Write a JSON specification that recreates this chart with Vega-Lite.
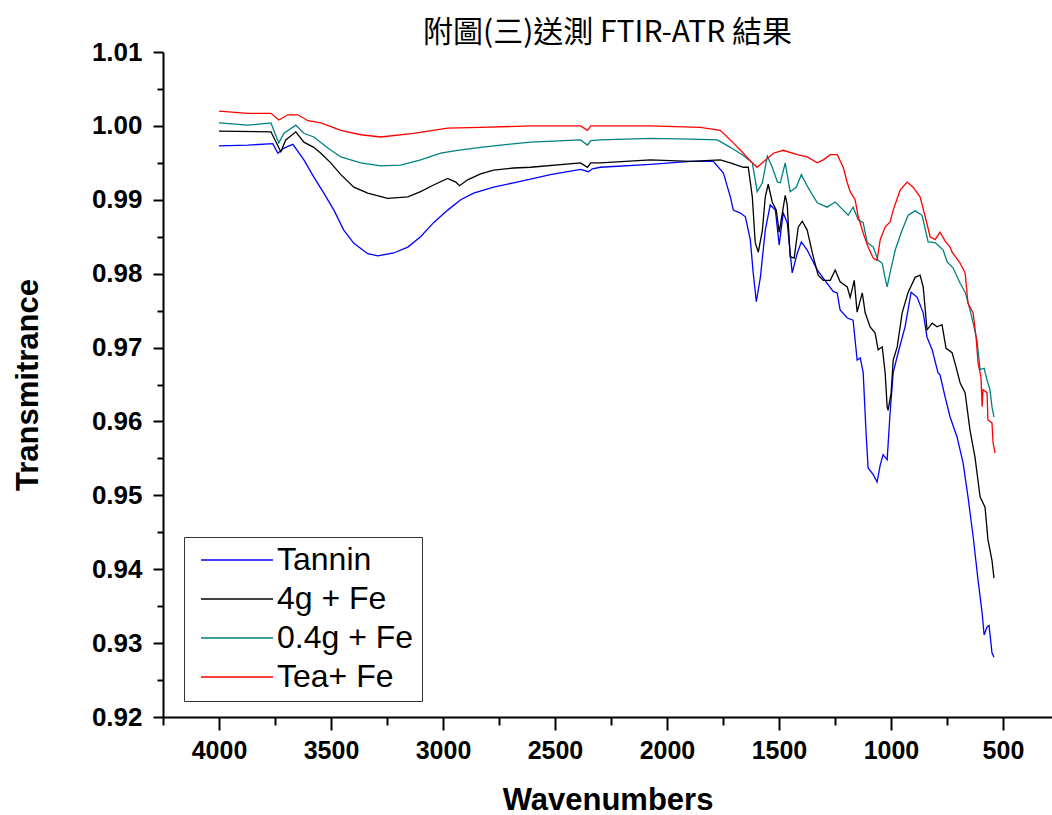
{
  "$schema": "https://vega.github.io/schema/vega-lite/v6.json",
  "autosize": "none",
  "padding": {"left": 163, "top": 52, "right": 0, "bottom": 98},
  "width": 889,
  "height": 665,
  "background": "white",
  "title": {"text": "附圖(三)送測 FTIR-ATR 結果", "font": "Noto Sans CJK TC", "fontSize": 30, "fontWeight": "normal", "color": "black", "anchor": "middle", "offset": 0, "dy": 9},
  "config": {"view": {"stroke": null}},
  "datasets": {
    "spectra": [
      {"s":"Tannin","w":4000,"t":0.9973},{"s":"Tannin","w":3870,"t":0.9974},{"s":"Tannin","w":3760,"t":0.9976},{"s":"Tannin","w":3737,"t":0.9963},{"s":"Tannin","w":3710,"t":0.9970},{"s":"Tannin","w":3670,"t":0.9975},{"s":"Tannin","w":3621,"t":0.9954},{"s":"Tannin","w":3577,"t":0.9931},{"s":"Tannin","w":3532,"t":0.9909},{"s":"Tannin","w":3487,"t":0.9886},{"s":"Tannin","w":3443,"t":0.9859},{"s":"Tannin","w":3398,"t":0.9841},{"s":"Tannin","w":3336,"t":0.9827},{"s":"Tannin","w":3291,"t":0.9824},{"s":"Tannin","w":3220,"t":0.9828},{"s":"Tannin","w":3157,"t":0.9836},{"s":"Tannin","w":3100,"t":0.9850},{"s":"Tannin","w":3042,"t":0.9869},{"s":"Tannin","w":2979,"t":0.9886},{"s":"Tannin","w":2921,"t":0.9900},{"s":"Tannin","w":2863,"t":0.9909},{"s":"Tannin","w":2774,"t":0.9917},{"s":"Tannin","w":2685,"t":0.9923},{"s":"Tannin","w":2609,"t":0.9928},{"s":"Tannin","w":2520,"t":0.9934},{"s":"Tannin","w":2386,"t":0.9941},{"s":"Tannin","w":2350,"t":0.9938},{"s":"Tannin","w":2333,"t":0.9942},{"s":"Tannin","w":2297,"t":0.9944},{"s":"Tannin","w":2074,"t":0.9948},{"s":"Tannin","w":1896,"t":0.9952},{"s":"Tannin","w":1793,"t":0.9952},{"s":"Tannin","w":1748,"t":0.9936},{"s":"Tannin","w":1717,"t":0.9904},{"s":"Tannin","w":1704,"t":0.9886},{"s":"Tannin","w":1672,"t":0.9882},{"s":"Tannin","w":1650,"t":0.9877},{"s":"Tannin","w":1628,"t":0.9846},{"s":"Tannin","w":1615,"t":0.9801},{"s":"Tannin","w":1601,"t":0.9762},{"s":"Tannin","w":1583,"t":0.9795},{"s":"Tannin","w":1561,"t":0.9859},{"s":"Tannin","w":1539,"t":0.9893},{"s":"Tannin","w":1516,"t":0.9886},{"s":"Tannin","w":1499,"t":0.9839},{"s":"Tannin","w":1481,"t":0.9882},{"s":"Tannin","w":1463,"t":0.9869},{"s":"Tannin","w":1441,"t":0.9801},{"s":"Tannin","w":1418,"t":0.9828},{"s":"Tannin","w":1400,"t":0.9843},{"s":"Tannin","w":1374,"t":0.9832},{"s":"Tannin","w":1329,"t":0.9805},{"s":"Tannin","w":1285,"t":0.9787},{"s":"Tannin","w":1258,"t":0.9776},{"s":"Tannin","w":1240,"t":0.9774},{"s":"Tannin","w":1227,"t":0.9751},{"s":"Tannin","w":1195,"t":0.9740},{"s":"Tannin","w":1169,"t":0.9737},{"s":"Tannin","w":1151,"t":0.9683},{"s":"Tannin","w":1137,"t":0.9686},{"s":"Tannin","w":1124,"t":0.9666},{"s":"Tannin","w":1111,"t":0.9584},{"s":"Tannin","w":1102,"t":0.9537},{"s":"Tannin","w":1079,"t":0.9528},{"s":"Tannin","w":1062,"t":0.9518},{"s":"Tannin","w":1048,"t":0.9541},{"s":"Tannin","w":1035,"t":0.9555},{"s":"Tannin","w":1017,"t":0.9548},{"s":"Tannin","w":1004,"t":0.9611},{"s":"Tannin","w":990,"t":0.9666},{"s":"Tannin","w":968,"t":0.9693},{"s":"Tannin","w":937,"t":0.9728},{"s":"Tannin","w":910,"t":0.9775},{"s":"Tannin","w":883,"t":0.9768},{"s":"Tannin","w":856,"t":0.9747},{"s":"Tannin","w":839,"t":0.9714},{"s":"Tannin","w":816,"t":0.9697},{"s":"Tannin","w":790,"t":0.9666},{"s":"Tannin","w":781,"t":0.9663},{"s":"Tannin","w":758,"t":0.9633},{"s":"Tannin","w":736,"t":0.9606},{"s":"Tannin","w":705,"t":0.9579},{"s":"Tannin","w":678,"t":0.9544},{"s":"Tannin","w":656,"t":0.9498},{"s":"Tannin","w":633,"t":0.9444},{"s":"Tannin","w":611,"t":0.9385},{"s":"Tannin","w":593,"t":0.9341},{"s":"Tannin","w":584,"t":0.9311},{"s":"Tannin","w":571,"t":0.9322},{"s":"Tannin","w":562,"t":0.9324},{"s":"Tannin","w":549,"t":0.9287},{"s":"Tannin","w":540,"t":0.9281},

      {"s":"4g + Fe","w":4000,"t":0.9993},{"s":"4g + Fe","w":3768,"t":0.9992},{"s":"4g + Fe","w":3724,"t":0.9965},{"s":"4g + Fe","w":3702,"t":0.9981},{"s":"4g + Fe","w":3657,"t":0.9992},{"s":"4g + Fe","w":3621,"t":0.9978},{"s":"4g + Fe","w":3577,"t":0.9971},{"s":"4g + Fe","w":3545,"t":0.9963},{"s":"4g + Fe","w":3501,"t":0.9950},{"s":"4g + Fe","w":3456,"t":0.9934},{"s":"4g + Fe","w":3398,"t":0.9917},{"s":"4g + Fe","w":3336,"t":0.9909},{"s":"4g + Fe","w":3247,"t":0.9902},{"s":"4g + Fe","w":3157,"t":0.9904},{"s":"4g + Fe","w":3100,"t":0.9911},{"s":"4g + Fe","w":3042,"t":0.9920},{"s":"4g + Fe","w":2979,"t":0.9929},{"s":"4g + Fe","w":2943,"t":0.9924},{"s":"4g + Fe","w":2926,"t":0.9919},{"s":"4g + Fe","w":2890,"t":0.9927},{"s":"4g + Fe","w":2832,"t":0.9935},{"s":"4g + Fe","w":2774,"t":0.9940},{"s":"4g + Fe","w":2685,"t":0.9943},{"s":"4g + Fe","w":2609,"t":0.9944},{"s":"4g + Fe","w":2386,"t":0.9950},{"s":"4g + Fe","w":2355,"t":0.9944},{"s":"4g + Fe","w":2340,"t":0.9950},{"s":"4g + Fe","w":2297,"t":0.9950},{"s":"4g + Fe","w":2074,"t":0.9954},{"s":"4g + Fe","w":1896,"t":0.9952},{"s":"4g + Fe","w":1762,"t":0.9954},{"s":"4g + Fe","w":1717,"t":0.9950},{"s":"4g + Fe","w":1659,"t":0.9944},{"s":"4g + Fe","w":1637,"t":0.9944},{"s":"4g + Fe","w":1619,"t":0.9904},{"s":"4g + Fe","w":1606,"t":0.9842},{"s":"4g + Fe","w":1592,"t":0.9829},{"s":"4g + Fe","w":1574,"t":0.9859},{"s":"4g + Fe","w":1561,"t":0.9904},{"s":"4g + Fe","w":1548,"t":0.9921},{"s":"4g + Fe","w":1530,"t":0.9897},{"s":"4g + Fe","w":1512,"t":0.9886},{"s":"4g + Fe","w":1499,"t":0.9856},{"s":"4g + Fe","w":1472,"t":0.9906},{"s":"4g + Fe","w":1463,"t":0.9893},{"s":"4g + Fe","w":1450,"t":0.9823},{"s":"4g + Fe","w":1432,"t":0.9821},{"s":"4g + Fe","w":1414,"t":0.9863},{"s":"4g + Fe","w":1396,"t":0.9871},{"s":"4g + Fe","w":1374,"t":0.9859},{"s":"4g + Fe","w":1347,"t":0.9823},{"s":"4g + Fe","w":1325,"t":0.9798},{"s":"4g + Fe","w":1302,"t":0.9791},{"s":"4g + Fe","w":1271,"t":0.9791},{"s":"4g + Fe","w":1249,"t":0.9805},{"s":"4g + Fe","w":1227,"t":0.9789},{"s":"4g + Fe","w":1195,"t":0.9782},{"s":"4g + Fe","w":1182,"t":0.9768},{"s":"4g + Fe","w":1164,"t":0.9791},{"s":"4g + Fe","w":1151,"t":0.9748},{"s":"4g + Fe","w":1128,"t":0.9774},{"s":"4g + Fe","w":1115,"t":0.9747},{"s":"4g + Fe","w":1093,"t":0.9728},{"s":"4g + Fe","w":1071,"t":0.9720},{"s":"4g + Fe","w":1057,"t":0.9697},{"s":"4g + Fe","w":1039,"t":0.9701},{"s":"4g + Fe","w":1026,"t":0.9666},{"s":"4g + Fe","w":1017,"t":0.9620},{"s":"4g + Fe","w":1013,"t":0.9615},{"s":"4g + Fe","w":999,"t":0.9639},{"s":"4g + Fe","w":990,"t":0.9683},{"s":"4g + Fe","w":972,"t":0.9701},{"s":"4g + Fe","w":950,"t":0.9747},{"s":"4g + Fe","w":923,"t":0.9775},{"s":"4g + Fe","w":892,"t":0.9795},{"s":"4g + Fe","w":870,"t":0.9798},{"s":"4g + Fe","w":856,"t":0.9782},{"s":"4g + Fe","w":839,"t":0.9724},{"s":"4g + Fe","w":816,"t":0.9733},{"s":"4g + Fe","w":794,"t":0.9728},{"s":"4g + Fe","w":772,"t":0.9731},{"s":"4g + Fe","w":754,"t":0.9699},{"s":"4g + Fe","w":727,"t":0.9693},{"s":"4g + Fe","w":714,"t":0.9679},{"s":"4g + Fe","w":691,"t":0.9652},{"s":"4g + Fe","w":669,"t":0.9639},{"s":"4g + Fe","w":647,"t":0.9588},{"s":"4g + Fe","w":625,"t":0.9552},{"s":"4g + Fe","w":602,"t":0.9498},{"s":"4g + Fe","w":580,"t":0.9484},{"s":"4g + Fe","w":567,"t":0.9440},{"s":"4g + Fe","w":549,"t":0.9412},{"s":"4g + Fe","w":540,"t":0.9388},

      {"s":"0.4g + Fe","w":4000,"t":1.0004},{"s":"0.4g + Fe","w":3871,"t":1.0001},{"s":"0.4g + Fe","w":3768,"t":1.0004},{"s":"0.4g + Fe","w":3733,"t":0.9977},{"s":"0.4g + Fe","w":3710,"t":0.9990},{"s":"0.4g + Fe","w":3657,"t":1.0001},{"s":"0.4g + Fe","w":3621,"t":0.9990},{"s":"0.4g + Fe","w":3577,"t":0.9985},{"s":"0.4g + Fe","w":3514,"t":0.9970},{"s":"0.4g + Fe","w":3456,"t":0.9958},{"s":"0.4g + Fe","w":3367,"t":0.9950},{"s":"0.4g + Fe","w":3278,"t":0.9946},{"s":"0.4g + Fe","w":3189,"t":0.9947},{"s":"0.4g + Fe","w":3100,"t":0.9954},{"s":"0.4g + Fe","w":3010,"t":0.9963},{"s":"0.4g + Fe","w":2935,"t":0.9967},{"s":"0.4g + Fe","w":2832,"t":0.9971},{"s":"0.4g + Fe","w":2743,"t":0.9974},{"s":"0.4g + Fe","w":2609,"t":0.9978},{"s":"0.4g + Fe","w":2386,"t":0.9981},{"s":"0.4g + Fe","w":2355,"t":0.9974},{"s":"0.4g + Fe","w":2340,"t":0.9980},{"s":"0.4g + Fe","w":2297,"t":0.9981},{"s":"0.4g + Fe","w":2074,"t":0.9983},{"s":"0.4g + Fe","w":1896,"t":0.9982},{"s":"0.4g + Fe","w":1775,"t":0.9981},{"s":"0.4g + Fe","w":1717,"t":0.9971},{"s":"0.4g + Fe","w":1659,"t":0.9960},{"s":"0.4g + Fe","w":1619,"t":0.9950},{"s":"0.4g + Fe","w":1597,"t":0.9911},{"s":"0.4g + Fe","w":1574,"t":0.9923},{"s":"0.4g + Fe","w":1552,"t":0.9959},{"s":"0.4g + Fe","w":1530,"t":0.9944},{"s":"0.4g + Fe","w":1507,"t":0.9924},{"s":"0.4g + Fe","w":1494,"t":0.9923},{"s":"0.4g + Fe","w":1472,"t":0.9950},{"s":"0.4g + Fe","w":1450,"t":0.9911},{"s":"0.4g + Fe","w":1423,"t":0.9917},{"s":"0.4g + Fe","w":1400,"t":0.9934},{"s":"0.4g + Fe","w":1369,"t":0.9916},{"s":"0.4g + Fe","w":1329,"t":0.9896},{"s":"0.4g + Fe","w":1285,"t":0.9890},{"s":"0.4g + Fe","w":1249,"t":0.9897},{"s":"0.4g + Fe","w":1213,"t":0.9886},{"s":"0.4g + Fe","w":1191,"t":0.9879},{"s":"0.4g + Fe","w":1169,"t":0.9890},{"s":"0.4g + Fe","w":1146,"t":0.9873},{"s":"0.4g + Fe","w":1124,"t":0.9869},{"s":"0.4g + Fe","w":1106,"t":0.9842},{"s":"0.4g + Fe","w":1079,"t":0.9836},{"s":"0.4g + Fe","w":1057,"t":0.9818},{"s":"0.4g + Fe","w":1039,"t":0.9814},{"s":"0.4g + Fe","w":1026,"t":0.9794},{"s":"0.4g + Fe","w":1017,"t":0.9782},{"s":"0.4g + Fe","w":1004,"t":0.9801},{"s":"0.4g + Fe","w":981,"t":0.9832},{"s":"0.4g + Fe","w":950,"t":0.9859},{"s":"0.4g + Fe","w":923,"t":0.9879},{"s":"0.4g + Fe","w":892,"t":0.9885},{"s":"0.4g + Fe","w":861,"t":0.9879},{"s":"0.4g + Fe","w":834,"t":0.9843},{"s":"0.4g + Fe","w":803,"t":0.9842},{"s":"0.4g + Fe","w":781,"t":0.9836},{"s":"0.4g + Fe","w":767,"t":0.9832},{"s":"0.4g + Fe","w":749,"t":0.9816},{"s":"0.4g + Fe","w":723,"t":0.9808},{"s":"0.4g + Fe","w":691,"t":0.9787},{"s":"0.4g + Fe","w":669,"t":0.9775},{"s":"0.4g + Fe","w":647,"t":0.9751},{"s":"0.4g + Fe","w":633,"t":0.9733},{"s":"0.4g + Fe","w":616,"t":0.9710},{"s":"0.4g + Fe","w":602,"t":0.9670},{"s":"0.4g + Fe","w":584,"t":0.9672},{"s":"0.4g + Fe","w":571,"t":0.9656},{"s":"0.4g + Fe","w":558,"t":0.9643},{"s":"0.4g + Fe","w":549,"t":0.9620},{"s":"0.4g + Fe","w":540,"t":0.9606},

      {"s":"Tea+ Fe","w":4000,"t":1.0020},{"s":"Tea+ Fe","w":3871,"t":1.0017},{"s":"Tea+ Fe","w":3768,"t":1.0017},{"s":"Tea+ Fe","w":3733,"t":1.0008},{"s":"Tea+ Fe","w":3693,"t":1.0015},{"s":"Tea+ Fe","w":3648,"t":1.0015},{"s":"Tea+ Fe","w":3603,"t":1.0007},{"s":"Tea+ Fe","w":3545,"t":1.0004},{"s":"Tea+ Fe","w":3456,"t":0.9994},{"s":"Tea+ Fe","w":3367,"t":0.9988},{"s":"Tea+ Fe","w":3278,"t":0.9985},{"s":"Tea+ Fe","w":3131,"t":0.9990},{"s":"Tea+ Fe","w":2979,"t":0.9997},{"s":"Tea+ Fe","w":2832,"t":0.9998},{"s":"Tea+ Fe","w":2609,"t":1.0000},{"s":"Tea+ Fe","w":2386,"t":1.0000},{"s":"Tea+ Fe","w":2355,"t":0.9994},{"s":"Tea+ Fe","w":2340,"t":1.0000},{"s":"Tea+ Fe","w":2297,"t":1.0000},{"s":"Tea+ Fe","w":2074,"t":1.0000},{"s":"Tea+ Fe","w":1851,"t":0.9998},{"s":"Tea+ Fe","w":1762,"t":0.9994},{"s":"Tea+ Fe","w":1704,"t":0.9977},{"s":"Tea+ Fe","w":1659,"t":0.9963},{"s":"Tea+ Fe","w":1619,"t":0.9950},{"s":"Tea+ Fe","w":1597,"t":0.9944},{"s":"Tea+ Fe","w":1570,"t":0.9951},{"s":"Tea+ Fe","w":1525,"t":0.9963},{"s":"Tea+ Fe","w":1481,"t":0.9967},{"s":"Tea+ Fe","w":1418,"t":0.9961},{"s":"Tea+ Fe","w":1374,"t":0.9958},{"s":"Tea+ Fe","w":1329,"t":0.9950},{"s":"Tea+ Fe","w":1302,"t":0.9954},{"s":"Tea+ Fe","w":1271,"t":0.9961},{"s":"Tea+ Fe","w":1240,"t":0.9961},{"s":"Tea+ Fe","w":1213,"t":0.9944},{"s":"Tea+ Fe","w":1195,"t":0.9923},{"s":"Tea+ Fe","w":1182,"t":0.9911},{"s":"Tea+ Fe","w":1160,"t":0.9900},{"s":"Tea+ Fe","w":1146,"t":0.9877},{"s":"Tea+ Fe","w":1124,"t":0.9855},{"s":"Tea+ Fe","w":1102,"t":0.9836},{"s":"Tea+ Fe","w":1079,"t":0.9821},{"s":"Tea+ Fe","w":1062,"t":0.9818},{"s":"Tea+ Fe","w":1048,"t":0.9846},{"s":"Tea+ Fe","w":1026,"t":0.9863},{"s":"Tea+ Fe","w":1004,"t":0.9870},{"s":"Tea+ Fe","w":990,"t":0.9886},{"s":"Tea+ Fe","w":959,"t":0.9913},{"s":"Tea+ Fe","w":928,"t":0.9924},{"s":"Tea+ Fe","w":901,"t":0.9917},{"s":"Tea+ Fe","w":870,"t":0.9904},{"s":"Tea+ Fe","w":847,"t":0.9877},{"s":"Tea+ Fe","w":825,"t":0.9850},{"s":"Tea+ Fe","w":803,"t":0.9846},{"s":"Tea+ Fe","w":781,"t":0.9856},{"s":"Tea+ Fe","w":758,"t":0.9844},{"s":"Tea+ Fe","w":736,"t":0.9836},{"s":"Tea+ Fe","w":727,"t":0.9829},{"s":"Tea+ Fe","w":705,"t":0.9820},{"s":"Tea+ Fe","w":691,"t":0.9814},{"s":"Tea+ Fe","w":669,"t":0.9801},{"s":"Tea+ Fe","w":656,"t":0.9760},{"s":"Tea+ Fe","w":633,"t":0.9747},{"s":"Tea+ Fe","w":620,"t":0.9714},{"s":"Tea+ Fe","w":611,"t":0.9679},{"s":"Tea+ Fe","w":598,"t":0.9660},{"s":"Tea+ Fe","w":593,"t":0.9620},{"s":"Tea+ Fe","w":589,"t":0.9643},{"s":"Tea+ Fe","w":571,"t":0.9639},{"s":"Tea+ Fe","w":567,"t":0.9602},{"s":"Tea+ Fe","w":549,"t":0.9598},{"s":"Tea+ Fe","w":544,"t":0.9571},{"s":"Tea+ Fe","w":535,"t":0.9557}
    ]
  },
  "data": {"name": "spectra"},
  "mark": {"type": "line", "strokeWidth": 1.3, "clip": true},
  "encoding": {
    "x": {
      "field": "w", "type": "quantitative",
      "scale": {"domain": [281, 4250], "reverse": true, "nice": false, "zero": false},
      "axis": {
        "title": "Wavenumbers",
        "values": [500, 750, 1000, 1250, 1500, 1750, 2000, 2250, 2500, 2750, 3000, 3250, 3500, 3750, 4000, 4250],
        "labelExpr": "datum.value % 500 === 0 ? format(datum.value, 'd') : ''",
        "labelFont": "Liberation Sans", "labelFontWeight": "bold", "labelFontSize": 25, "labelColor": "black", "labelPadding": 8,
        "titleFont": "Liberation Sans", "titleFontWeight": "bold", "titleFontSize": 31, "titleColor": "black", "titlePadding": 22,
        "domainColor": "black", "domainWidth": 2, "tickColor": "black", "tickWidth": 2,
        "tickSize": {"condition": {"test": "datum.value % 500 === 0", "value": 13}, "value": 8},
        "grid": false, "labelFlush": false, "labelOverlap": false
      }
    },
    "y": {
      "field": "t", "type": "quantitative",
      "scale": {"domain": [0.92, 1.01], "nice": false, "zero": false},
      "axis": {
        "title": "Transmitrance",
        "values": [0.92, 0.925, 0.93, 0.935, 0.94, 0.945, 0.95, 0.955, 0.96, 0.965, 0.97, 0.975, 0.98, 0.985, 0.99, 0.995, 1.0, 1.005, 1.01],
        "labelExpr": "abs(round(datum.value * 200)) % 2 == 0 ? format(datum.value, '.2f') : ''",
        "labelFont": "Liberation Sans", "labelFontWeight": "bold", "labelFontSize": 26, "labelColor": "black", "labelPadding": 11,
        "titleFont": "Liberation Sans", "titleFontWeight": "bold", "titleFontSize": 31, "titleColor": "black", "titlePadding": 47,
        "domainColor": "black", "domainWidth": 2, "tickColor": "black", "tickWidth": 2,
        "tickSize": {"condition": {"test": "abs(round(datum.value * 200)) % 2 == 0", "value": 10}, "value": 6},
        "grid": false, "labelFlush": false, "labelOverlap": false
      }
    },
    "color": {
      "field": "s", "type": "nominal",
      "scale": {"domain": ["Tannin", "4g + Fe", "0.4g + Fe", "Tea+ Fe"], "range": ["#0000FF", "#000000", "#008080", "#FF0000"]},
      "legend": {
        "title": null, "orient": "none", "legendX": 21, "legendY": 485,
        "symbolType": "stroke", "symbolSize": 5184, "symbolStrokeWidth": 1.5, "symbolOffset": 8,
        "clipHeight": 30, "rowPadding": 7, "padding": 8, "labelOffset": 3,
        "labelFont": "Liberation Sans", "labelFontSize": 32, "labelColor": "black",
        "strokeColor": "#333333", "fillColor": "white", "cornerRadius": 0
      }
    }
  }
}
